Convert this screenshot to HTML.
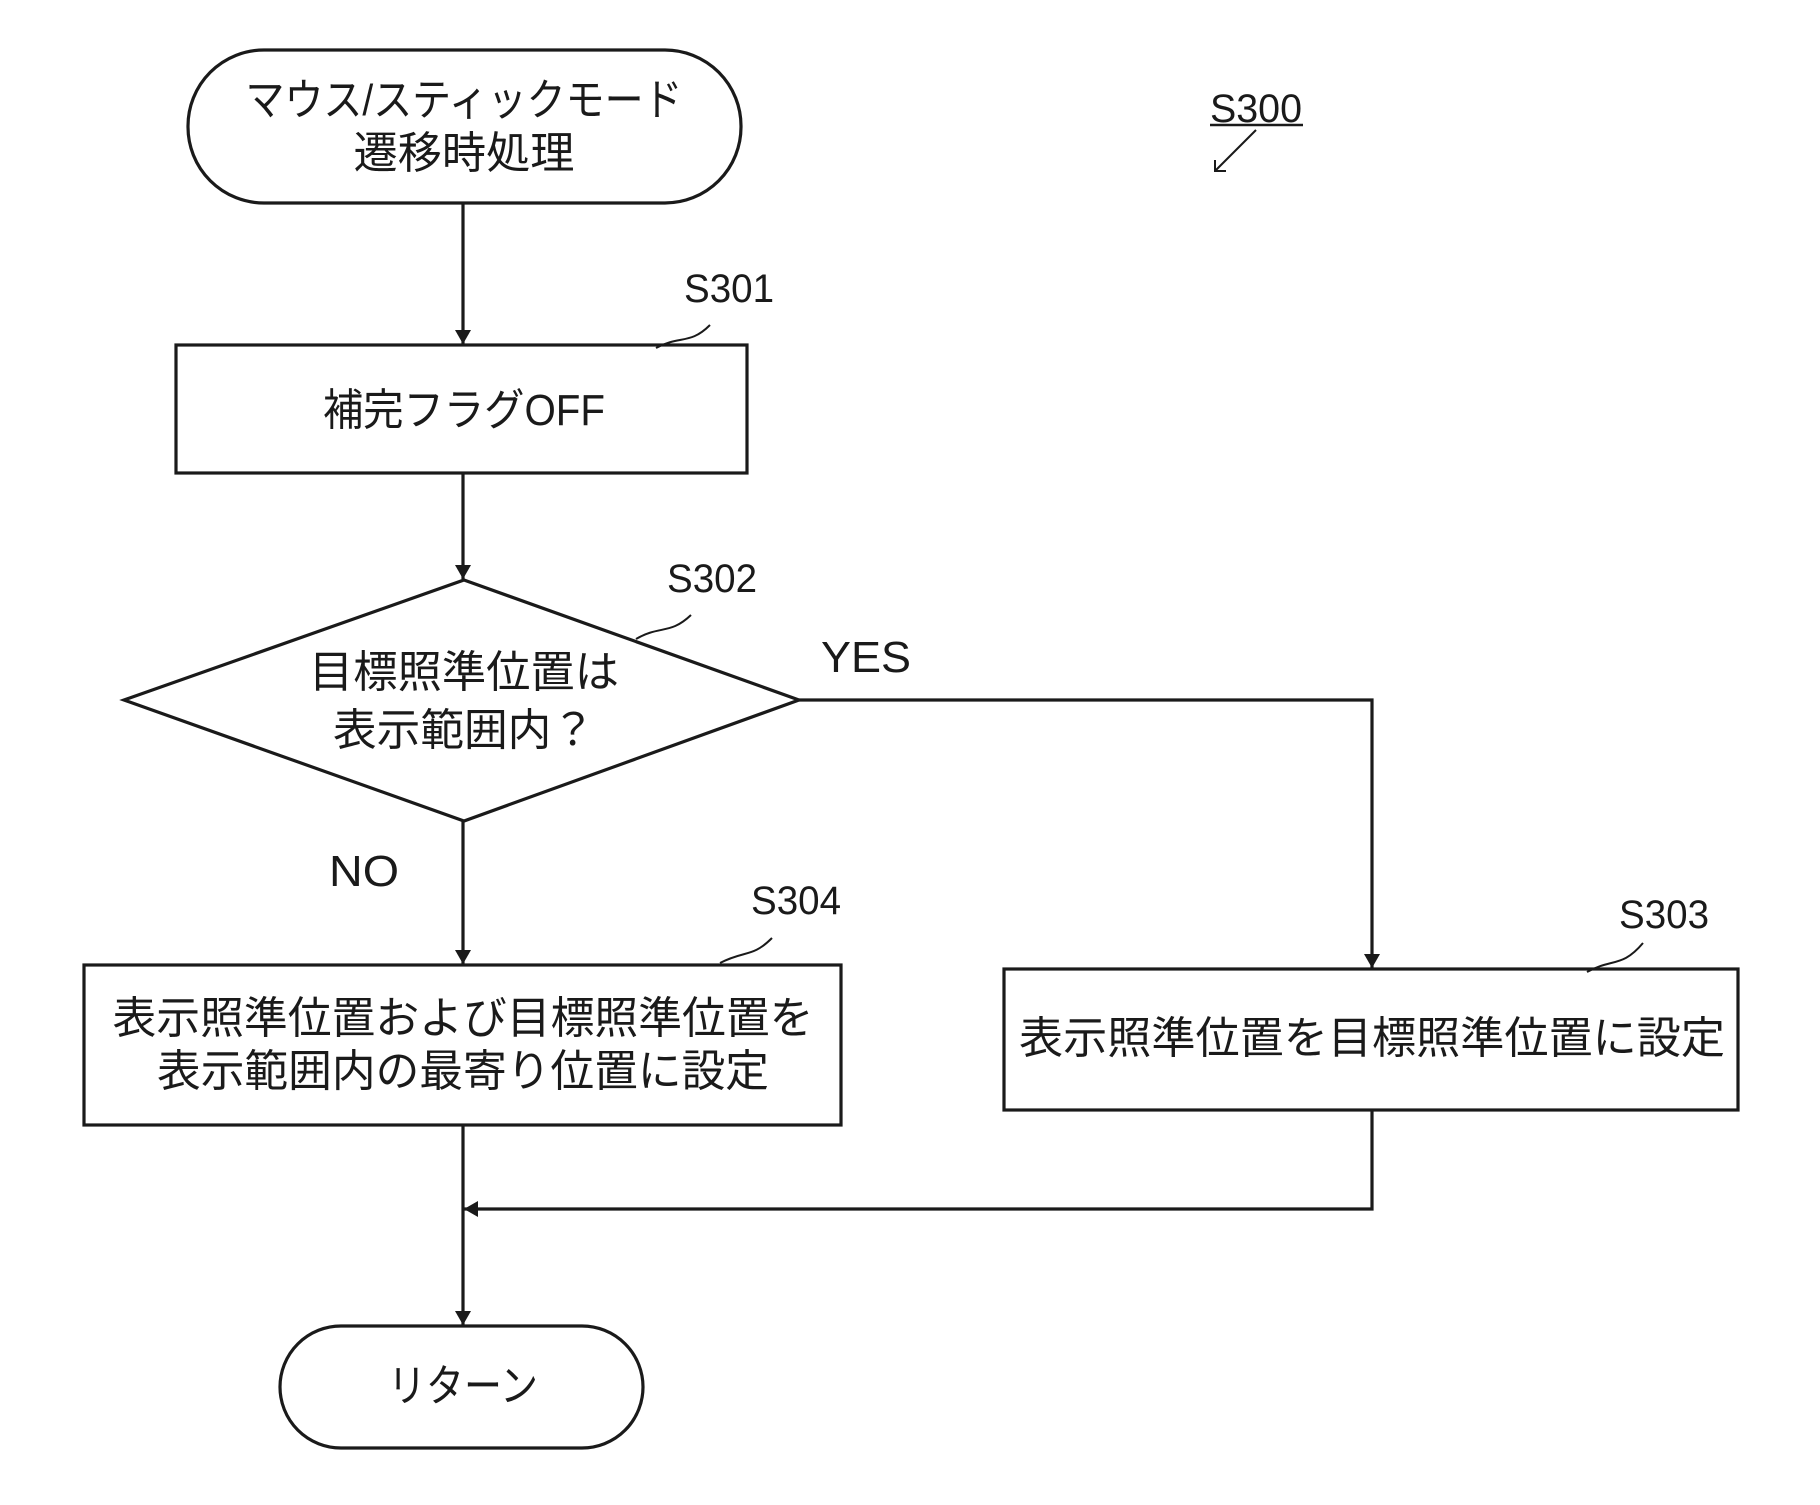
<!DOCTYPE html>
<html><head><meta charset="utf-8"><style>
html,body{margin:0;padding:0;background:#fff;}
text{font-family:"Liberation Sans","Noto Sans CJK JP",sans-serif;fill:#1a1a1a;}
</style></head><body>
<svg width="1820" height="1500" viewBox="0 0 1820 1500" xmlns="http://www.w3.org/2000/svg">
<defs><marker id="a" markerWidth="14" markerHeight="22" refX="14" refY="11" orient="auto" markerUnits="userSpaceOnUse"><path d="M0,3 L14,11 L0,19 Z" fill="#1a1a1a"/></marker></defs>
<g stroke="#1a1a1a" stroke-width="3.2" fill="none">
<rect x="188" y="50" width="553" height="153" rx="76" ry="76"/>
<rect x="176" y="345" width="571" height="128"/>
<polygon points="464,580 799,700 464,821 124,700"/>
<rect x="84" y="965" width="757" height="160"/>
<rect x="1004" y="969" width="734" height="141"/>
<rect x="280" y="1326" width="363" height="122" rx="61" ry="61"/>
<line x1="463" y1="203" x2="463" y2="344" marker-end="url(#a)"/>
<line x1="463" y1="473" x2="463" y2="579" marker-end="url(#a)"/>
<line x1="463" y1="821" x2="463" y2="964" marker-end="url(#a)"/>
<polyline points="799,700 1372,700 1372,968" marker-end="url(#a)"/>
<polyline points="1372,1110 1372,1209 464,1209" marker-end="url(#a)"/>
<line x1="463" y1="1125" x2="463" y2="1325" marker-end="url(#a)"/>
<path d="M656,348 C680,335 690,345 710,325" stroke-width="2"/>
<path d="M636,639 C660,625 670,635 691,615" stroke-width="2"/>
<path d="M720,963 C745,950 752,958 772,938" stroke-width="2"/>
<path d="M1587,972 C1612,958 1622,968 1643,943" stroke-width="2"/>
<line x1="1256" y1="130" x2="1215" y2="171" stroke-width="2"/>
<path d="M1215,160 L1215,171 L1226,171" stroke-width="2"/>
<line x1="1210" y1="125" x2="1303" y2="125" stroke-width="2.5"/>
</g>
<g font-size="44" text-anchor="middle" lengthAdjust="spacingAndGlyphs">
<text x="464" y="115" textLength="437" lengthAdjust="spacingAndGlyphs">マウス/スティックモード</text>
<text x="464" y="168" textLength="221" lengthAdjust="spacingAndGlyphs">遷移時処理</text>
<text x="464" y="425" textLength="282" lengthAdjust="spacingAndGlyphs">補完フラグOFF</text>
<text x="464" y="687" textLength="310" lengthAdjust="spacingAndGlyphs">目標照準位置は</text>
<text x="464" y="745" textLength="262" lengthAdjust="spacingAndGlyphs">表示範囲内？</text>
<text x="463" y="1033" textLength="701" lengthAdjust="spacingAndGlyphs">表示照準位置および目標照準位置を</text>
<text x="463" y="1086" textLength="612" lengthAdjust="spacingAndGlyphs">表示範囲内の最寄り位置に設定</text>
<text x="1372" y="1053" textLength="706" lengthAdjust="spacingAndGlyphs">表示照準位置を目標照準位置に設定</text>
<text x="463" y="1401" textLength="150" lengthAdjust="spacingAndGlyphs">リターン</text>
</g>
<g font-size="40" text-anchor="middle">
<text x="1256" y="122" textLength="92" lengthAdjust="spacingAndGlyphs">S300</text>
<text x="729" y="302" textLength="90" lengthAdjust="spacingAndGlyphs">S301</text>
<text x="712" y="592" textLength="90" lengthAdjust="spacingAndGlyphs">S302</text>
<text x="796" y="914" textLength="90" lengthAdjust="spacingAndGlyphs">S304</text>
<text x="1664" y="928" textLength="90" lengthAdjust="spacingAndGlyphs">S303</text>
<text x="866" y="672" font-size="44" textLength="90" lengthAdjust="spacingAndGlyphs">YES</text>
<text x="364" y="886" font-size="44" textLength="70" lengthAdjust="spacingAndGlyphs">NO</text>
</g>
</svg>
</body></html>
